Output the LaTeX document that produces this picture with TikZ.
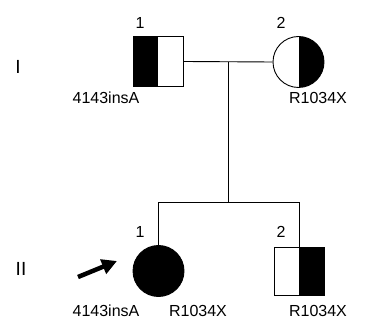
\documentclass[tikz,border=0pt]{standalone}
\usepackage{fontspec}
\setmainfont{Liberation Sans}
\usetikzlibrary{arrows.meta}
\begin{document}
\begin{tikzpicture}[x=1pt,y=-1pt,
  lbl/.style={inner sep=0pt,font=\fontsize{16}{19}\selectfont},
  gen/.style={inner sep=0pt,font=\fontsize{19}{22}\selectfont},
  male/.style={draw,line width=0.9pt,rectangle,minimum width=50pt,minimum height=50pt,inner sep=0pt},
  female/.style={draw,line width=0.9pt,circle,minimum size=51pt,inner sep=0pt},
  lefthalf/.style={path picture={\fill (path picture bounding box.south west) rectangle (path picture bounding box.north);}},
  righthalf/.style={path picture={\fill (path picture bounding box.south east) rectangle (path picture bounding box.north);}},
  link/.style={line width=0.9pt}]
\useasboundingbox (0,0) rectangle (372,320);
% generation I
\node[male,lefthalf] (I1) at (158,61.5) {};
\node[female,righthalf] (I2) at (298.5,62) {};
% generation II
\node[female,fill] (II1) at (158.5,271) {};
\node[male,righthalf,minimum height=48pt,minimum width=50pt] (II2) at (299,271) {};
% connectors
\coordinate (m) at (228,62);
\coordinate (sib) at (228,202);
\draw[link] (I1.east) -- (I2.west);
\draw[link] (m) -- (sib);
\draw[link] (II1.north) -- (II1.north |- sib) -- (II2.north |- sib) -- (II2.north);
% labels
\node[gen] (gI) at (18,67) {I};
\node[gen] (gII) at (21,269) {II};
\node[lbl] (n11) at (140,23) {1};
\node[lbl] (n12) at (281,23) {2};
\node[lbl] (n21) at (140,232) {1};
\node[lbl] (n22) at (281,232) {2};
\node[lbl] (a11) at (106,98) {4143insA};
\node[lbl] (a12) at (318,98) {R1034X};
\node[lbl] (a21a) at (106,311) {4143insA};
\node[lbl] (a21b) at (198,311) {R1034X};
\node[lbl] (a22) at (318,311) {R1034X};
% proband arrow
\coordinate (pt) at (78,277);
\coordinate (ph) at (117,261);
\draw[line width=4.5pt,-{Triangle[length=15pt,width=15pt]}] (pt) -- (ph);
\end{tikzpicture}
\end{document}
